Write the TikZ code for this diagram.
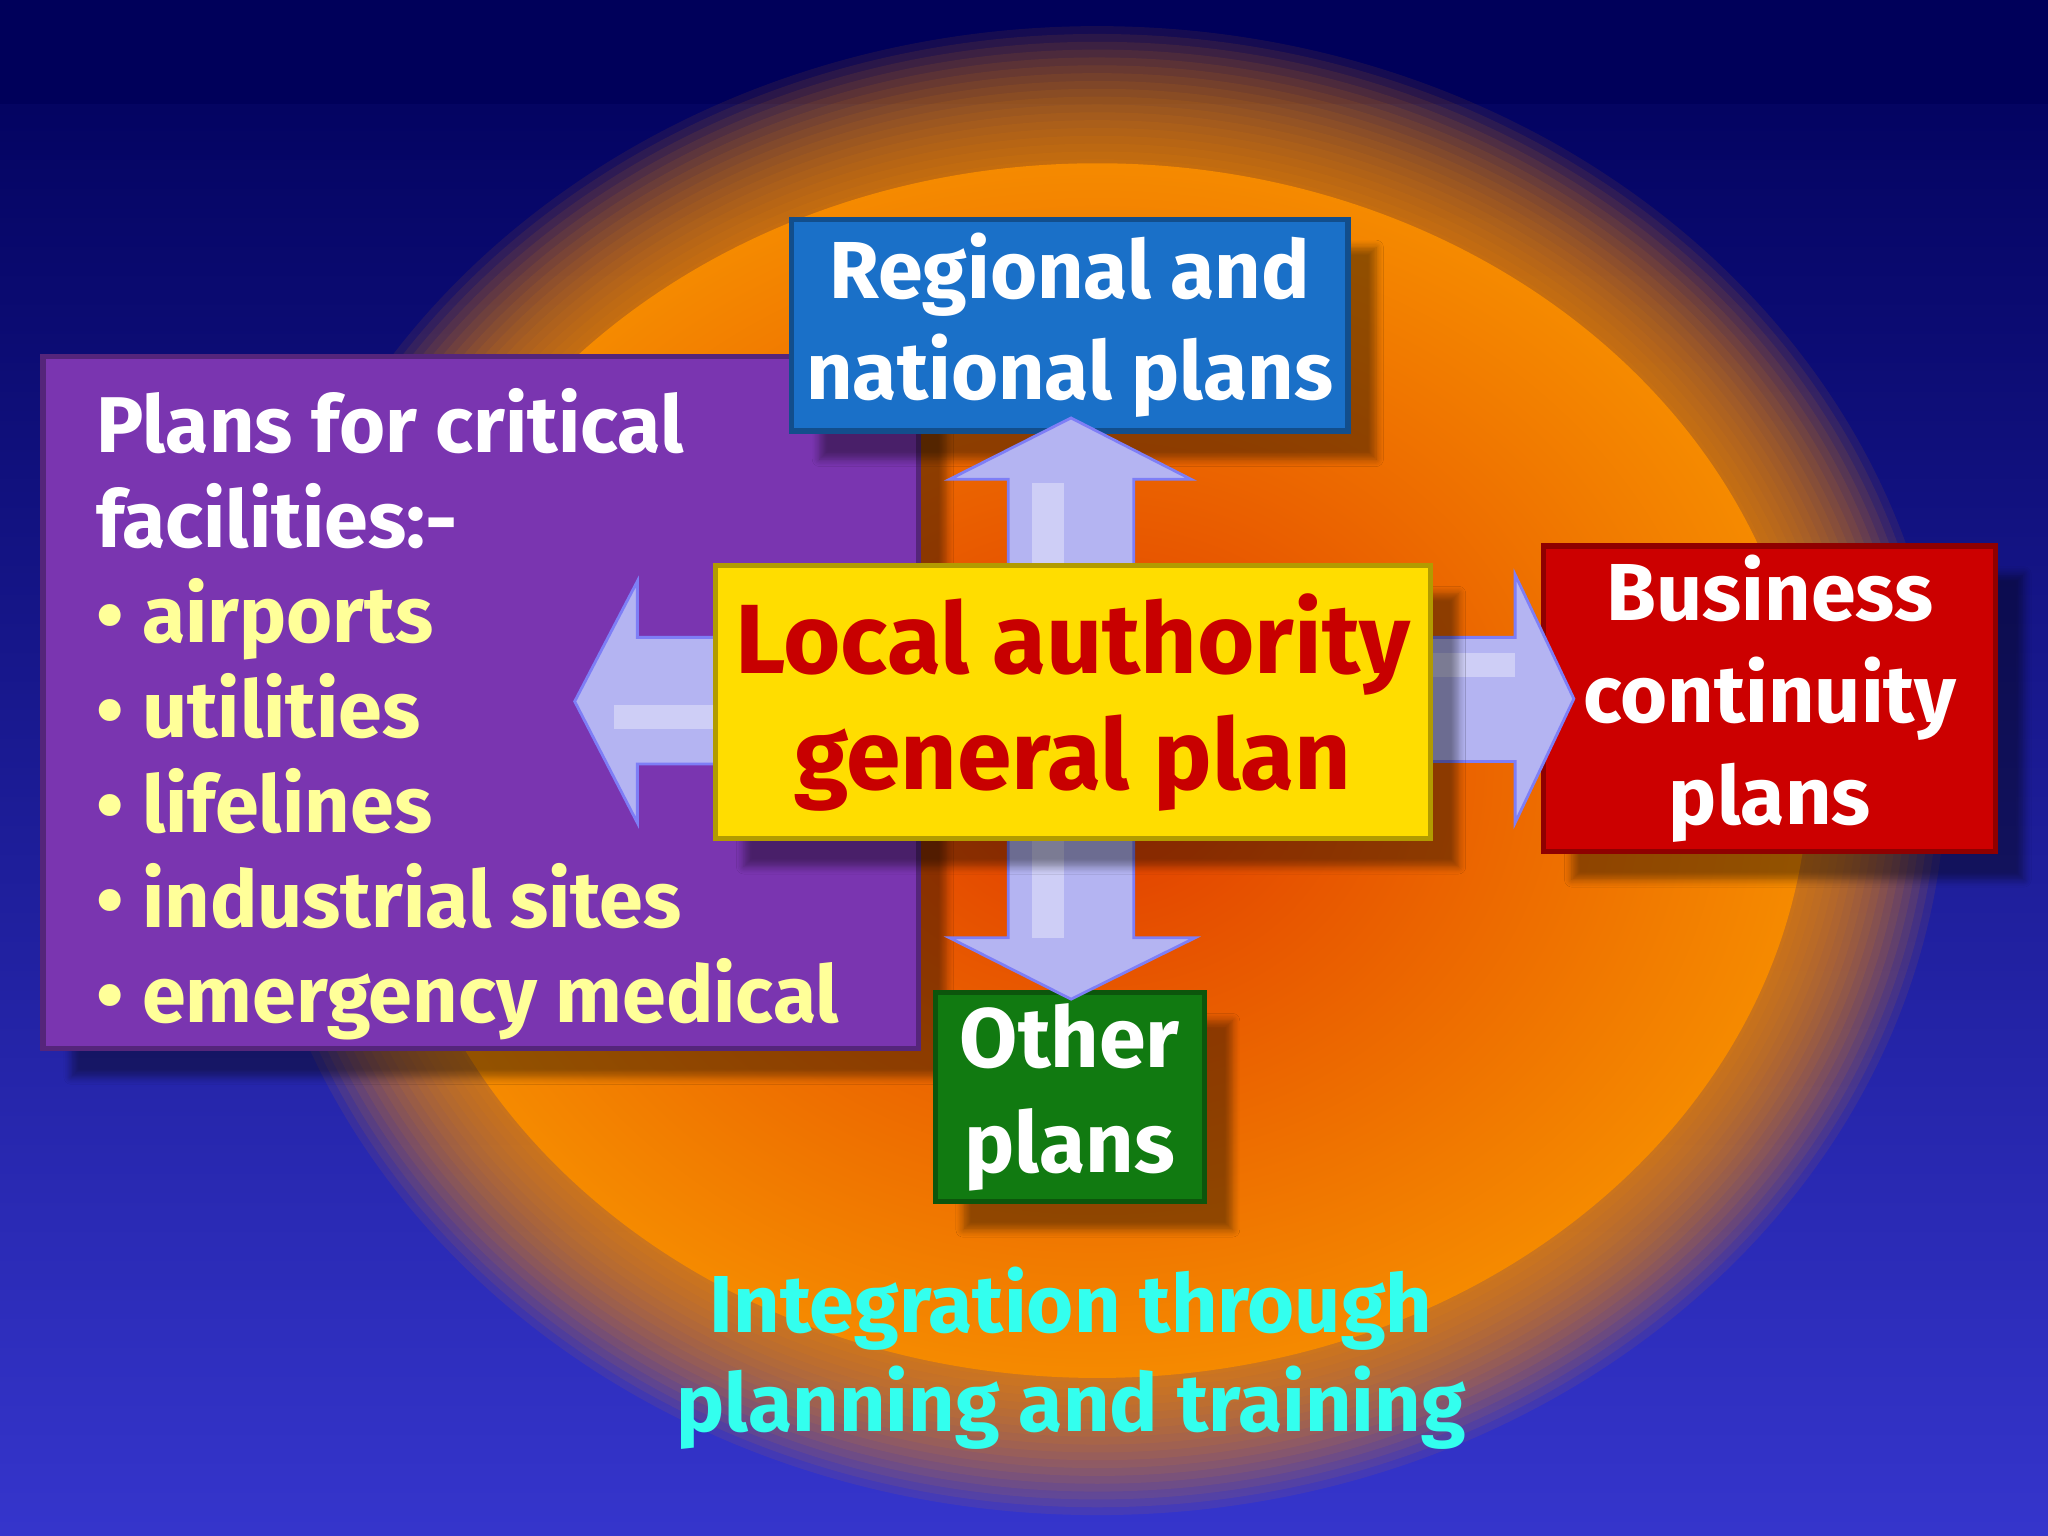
\documentclass[tikz,border=0pt]{standalone}
\usepackage{fontspec}
\setmainfont{Fira Sans}
\usetikzlibrary{shadows.blur,fit}
\definecolor{bgtop}{HTML}{00005A}
\definecolor{bgbot}{HTML}{3535CC}
\definecolor{orin}{HTML}{E03A00}
\definecolor{orout}{HTML}{F58A00}
\definecolor{purp}{HTML}{7A35B0}
\definecolor{bluebox}{HTML}{1A70C8}
\definecolor{yelbox}{HTML}{FFDD00}
\definecolor{redbox}{HTML}{CC0000}
\definecolor{grnbox}{HTML}{117A11}
\definecolor{arr}{HTML}{B4B4F2}
\definecolor{yeltxt}{HTML}{FFFF99}
\definecolor{cyantxt}{HTML}{33FFEE}
\definecolor{darkred}{HTML}{C80000}
\begin{document}
\begin{tikzpicture}[x=0.01306cm,y=-0.01306cm,
  box/.style={draw=#1!70!black,line width=1.5pt,fill=#1,blur shadow={shadow xshift=8pt,shadow yshift=-8pt,shadow blur steps=6},inner sep=0pt},
  arrowfill/.style={fill=arr,draw=arr!70!blue,line width=0.8pt},
  txt/.style={font=\bfseries\fontsize{23}{29}\selectfont,align=center,text=white}]
\useasboundingbox (0,0) rectangle (1568,1176);
\shade[top color=bgtop,bottom color=bgbot] (0,0) rectangle (1568,1176);
\fill[bgtop] (0,0) rectangle (1568,80);
% blurred orange ellipse
\foreach \i in {0,...,17}{
  \fill[orout,opacity=0.09] (840,590) ellipse ({650-\i*6} and {570-\i*6});
}
\shade[inner color=orin,outer color=orout] (840,590) ellipse (545 and 465);
% boxes
\node[box=purp,fit={(33,273) (703,803)}] (crit) {};
\node[box=bluebox,fit={(606,168) (1032,330)}] (reg) {};
\node[box=redbox,fit={(1182,418) (1528,652)}] (bus) {};
\node[box=grnbox,fit={(716,760) (922,920)}] (oth) {};
% arrows
\draw[arrowfill] (772,433) -- (772,367) -- (727,367) -- (820,320) -- (912,367) -- (868,367) -- (868,433) -- cycle;
\draw[arrowfill] (772,642) -- (772,718) -- (727,718) -- (820,765) -- (915,718) -- (868,718) -- (868,642) -- cycle;
\draw[arrowfill] (548,488) -- (488,488) -- (488,445) -- (440,537) -- (488,630) -- (488,585) -- (548,585) -- cycle;
\draw[arrowfill] (1095,488) -- (1160,488) -- (1160,440) -- (1205,535) -- (1160,630) -- (1160,583) -- (1095,583) -- cycle;
\fill[white,opacity=0.35] (790,370) rectangle (815,433);
\fill[white,opacity=0.35] (790,642) rectangle (815,718);
\fill[white,opacity=0.35] (470,540) rectangle (548,558);
\fill[white,opacity=0.35] (1095,500) rectangle (1160,518);
\node[box=yelbox,fit={(548,433) (1095,642)}] (loc) {};
% texts
\node[txt] at (reg.center) {Regional and\\national plans};
\node[txt,text=darkred,font=\bfseries\fontsize{28}{33}\selectfont] at (loc.center) {Local authority\\general plan};
\node[txt] at (bus.center) {Business\\continuity\\plans};
\node[txt,font=\bfseries\fontsize{24}{30}\selectfont] at (oth.center) {Other\\plans};
\node[txt,anchor=north west,align=left,font=\bfseries\fontsize{22.5}{27}\selectfont] (crittxt) at (64,288) {Plans for critical\\facilities:-\\
\textcolor{yeltxt}{• airports}\\\textcolor{yeltxt}{• utilities}\\\textcolor{yeltxt}{• lifelines}\\\textcolor{yeltxt}{• industrial sites}\\\textcolor{yeltxt}{• emergency medical}};
\node[txt,text=cyantxt,font=\bfseries\fontsize{23}{28}\selectfont] (integ) at (820,1040) {Integration through\\planning and training};
\end{tikzpicture}
\end{document}
